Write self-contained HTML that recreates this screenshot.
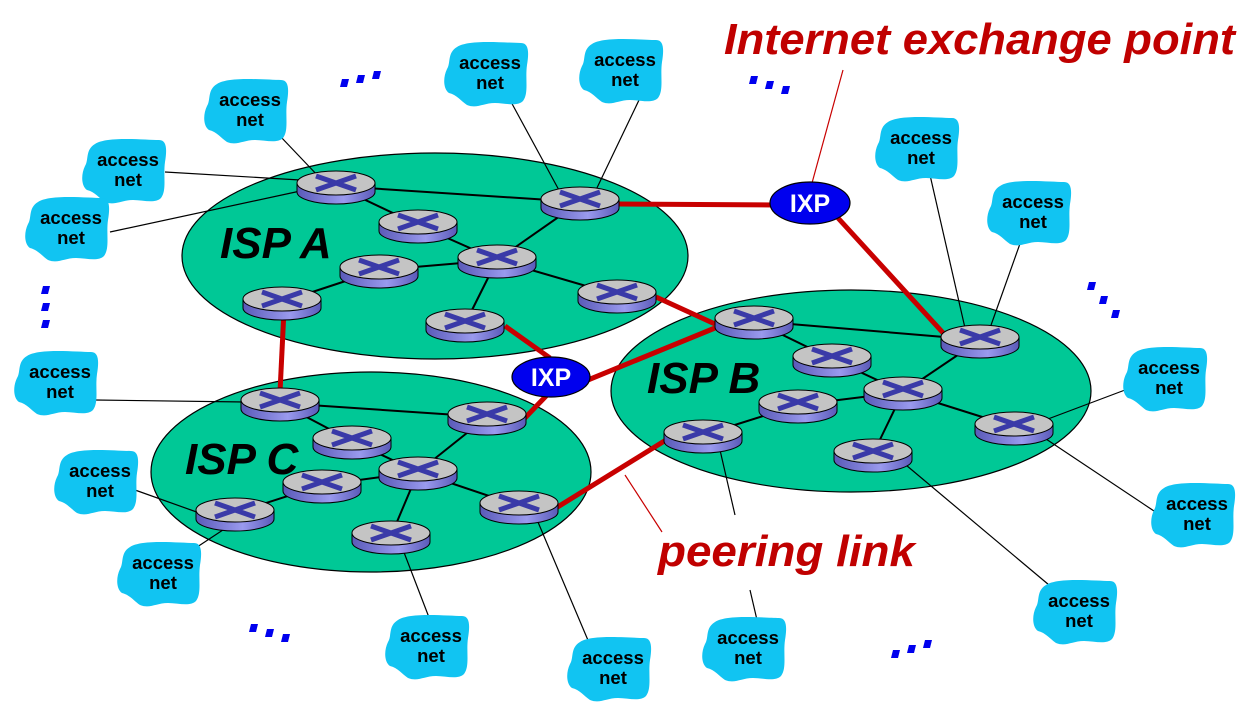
<!DOCTYPE html>
<html><head><meta charset="utf-8"><style>
html,body{margin:0;padding:0;background:#fff;width:1251px;height:707px;overflow:hidden}
svg{display:block}
.an{font-family:"Liberation Sans",sans-serif;font-weight:bold;font-size:18.5px;fill:#000;text-anchor:middle}
.isp{font-family:"Liberation Sans",sans-serif;font-weight:bold;font-style:italic;font-size:44px;fill:#000}
.red{font-family:"Liberation Sans",sans-serif;font-weight:bold;font-style:italic;font-size:44px;fill:#c00000}
.ixp{font-family:"Liberation Sans",sans-serif;font-weight:bold;font-size:25px;fill:#fff;text-anchor:middle}
</style></head><body>
<svg width="1251" height="707" viewBox="0 0 1251 707" xmlns="http://www.w3.org/2000/svg">
<defs>
<linearGradient id="side" x1="0" x2="1"><stop offset="0" stop-color="#5a5ab8"/><stop offset="0.6" stop-color="#9a9aee"/><stop offset="1" stop-color="#5a5ab8"/></linearGradient>
<g id="rt">
<path d="M-39,0 L-39,9 A39,12 0 0 0 39,9 L39,0 Z" fill="url(#side)" stroke="#000" stroke-width="1"/>
<ellipse cx="0" cy="0" rx="39" ry="12" fill="#c4c4c4" stroke="#000" stroke-width="1"/>
<path d="M-20,-7 L20,7 M-20,7 L20,-7" stroke="#3a3aa8" stroke-width="5"/>
</g>
<path id="blob" d="M-30,-26 C-18,-34 20,-30 34,-30 C42,-30 42,-20 40,-8 C38,6 42,20 36,28 C30,34 18,30 8,30 C-4,30 -10,36 -20,32 C-26,28 -30,22 -38,20 C-44,16 -44,4 -40,-4 C-36,-10 -40,-20 -30,-26 Z" fill="#11c4f2"/>
<path id="dot" d="M0,0 L7,0 L5,8 L-2,8 Z" fill="#0000ee"/>
</defs>

<ellipse cx="435" cy="256" rx="253" ry="103" fill="#00c896" stroke="#000" stroke-width="1.2"/>
<ellipse cx="851" cy="391" rx="240" ry="101" fill="#00c896" stroke="#000" stroke-width="1.2"/>
<ellipse cx="371" cy="472" rx="220" ry="100" fill="#00c896" stroke="#000" stroke-width="1.2"/>

<g stroke="#000" stroke-width="1.2" fill="none">
<line x1="280" y1="136" x2="320" y2="178"/>
<line x1="165" y1="172" x2="300" y2="180"/>
<line x1="110" y1="232" x2="305" y2="190"/>
<line x1="510" y1="100" x2="560" y2="192"/>
<line x1="640" y1="98" x2="595" y2="192"/>
<line x1="930" y1="175" x2="965" y2="328"/>
<line x1="1022" y1="238" x2="990" y2="328"/>
<line x1="95" y1="400" x2="245" y2="402"/>
<line x1="1125" y1="390" x2="1040" y2="422"/>
<line x1="135" y1="490" x2="205" y2="515"/>
<line x1="185" y1="555" x2="235" y2="522"/>
<line x1="1160" y1="515" x2="1040" y2="435"/>
<line x1="430" y1="620" x2="400" y2="542"/>
<line x1="590" y1="645" x2="535" y2="515"/>
<line x1="720" y1="450" x2="735" y2="515"/>
<line x1="750" y1="590" x2="757" y2="620"/>
<line x1="1055" y1="590" x2="900" y2="460"/>
</g>
<g stroke="#000" stroke-width="2" fill="none">
<line x1="336" y1="186" x2="580" y2="202"/><line x1="336" y1="186" x2="418" y2="225"/>
<line x1="418" y1="225" x2="497" y2="260"/><line x1="580" y1="202" x2="497" y2="260"/>
<line x1="497" y1="260" x2="379" y2="270"/><line x1="379" y1="270" x2="282" y2="302"/>
<line x1="497" y1="260" x2="617" y2="295"/><line x1="497" y1="260" x2="465" y2="324"/>
<line x1="754" y1="321" x2="980" y2="340"/><line x1="754" y1="321" x2="832" y2="359"/>
<line x1="832" y1="359" x2="903" y2="392"/><line x1="980" y1="340" x2="903" y2="392"/>
<line x1="903" y1="392" x2="798" y2="405"/><line x1="798" y1="405" x2="703" y2="435"/>
<line x1="903" y1="392" x2="873" y2="454"/><line x1="903" y1="392" x2="1014" y2="427"/>
<line x1="280" y1="403" x2="487" y2="417"/><line x1="280" y1="403" x2="352" y2="441"/>
<line x1="352" y1="441" x2="418" y2="472"/><line x1="487" y1="417" x2="418" y2="472"/>
<line x1="418" y1="472" x2="322" y2="485"/><line x1="322" y1="485" x2="235" y2="513"/>
<line x1="418" y1="472" x2="391" y2="536"/><line x1="418" y1="472" x2="519" y2="506"/>
</g>
<g stroke="#c80000" stroke-width="5" fill="none">
<line x1="284" y1="310" x2="280" y2="392"/>
<line x1="619" y1="204" x2="775" y2="205"/>
<line x1="838" y1="218" x2="945" y2="335"/>
<line x1="656" y1="297" x2="715" y2="324"/>
<line x1="505" y1="326" x2="550" y2="358"/>
<line x1="588" y1="380" x2="715" y2="328"/>
<line x1="523" y1="420" x2="548" y2="394"/>
<line x1="556" y1="508" x2="666" y2="440"/>
</g>
<g stroke="#c80000" stroke-width="1.2">
<line x1="843" y1="70" x2="812" y2="183"/>
<line x1="662" y1="532" x2="625" y2="475"/>
</g>

<use href="#rt" x="336" y="183"/><use href="#rt" x="580" y="199"/><use href="#rt" x="418" y="222"/>
<use href="#rt" x="497" y="257"/><use href="#rt" x="379" y="267"/><use href="#rt" x="282" y="299"/>
<use href="#rt" x="617" y="292"/><use href="#rt" x="465" y="321"/>
<use href="#rt" x="754" y="318"/><use href="#rt" x="980" y="337"/><use href="#rt" x="832" y="356"/>
<use href="#rt" x="903" y="389"/><use href="#rt" x="798" y="402"/><use href="#rt" x="1014" y="424"/>
<use href="#rt" x="703" y="432"/><use href="#rt" x="873" y="451"/>
<use href="#rt" x="280" y="400"/><use href="#rt" x="487" y="414"/><use href="#rt" x="352" y="438"/>
<use href="#rt" x="418" y="469"/><use href="#rt" x="322" y="482"/><use href="#rt" x="235" y="510"/>
<use href="#rt" x="519" y="503"/><use href="#rt" x="391" y="533"/>

<ellipse cx="810" cy="203" rx="40" ry="21" fill="#0000ee" stroke="#000" stroke-width="1.2"/>
<text class="ixp" x="810" y="212">IXP</text>
<ellipse cx="551" cy="377" rx="39" ry="20" fill="#0000ee" stroke="#000" stroke-width="1.2"/>
<text class="ixp" x="551" y="386">IXP</text>

<g>
<use href="#blob" x="247" y="110"/><text class="an" x="250" y="106">access</text><text class="an" x="250" y="126">net</text>
<use href="#blob" x="487" y="73"/><text class="an" x="490" y="69">access</text><text class="an" x="490" y="89">net</text>
<use href="#blob" x="622" y="70"/><text class="an" x="625" y="66">access</text><text class="an" x="625" y="86">net</text>
<use href="#blob" x="125" y="170"/><text class="an" x="128" y="166">access</text><text class="an" x="128" y="186">net</text>
<use href="#blob" x="68" y="228"/><text class="an" x="71" y="224">access</text><text class="an" x="71" y="244">net</text>
<use href="#blob" x="918" y="148"/><text class="an" x="921" y="144">access</text><text class="an" x="921" y="164">net</text>
<use href="#blob" x="1030" y="212"/><text class="an" x="1033" y="208">access</text><text class="an" x="1033" y="228">net</text>
<use href="#blob" x="57" y="382"/><text class="an" x="60" y="378">access</text><text class="an" x="60" y="398">net</text>
<use href="#blob" x="1166" y="378"/><text class="an" x="1169" y="374">access</text><text class="an" x="1169" y="394">net</text>
<use href="#blob" x="97" y="481"/><text class="an" x="100" y="477">access</text><text class="an" x="100" y="497">net</text>
<use href="#blob" x="160" y="573"/><text class="an" x="163" y="569">access</text><text class="an" x="163" y="589">net</text>
<use href="#blob" x="1194" y="514"/><text class="an" x="1197" y="510">access</text><text class="an" x="1197" y="530">net</text>
<use href="#blob" x="428" y="646"/><text class="an" x="431" y="642">access</text><text class="an" x="431" y="662">net</text>
<use href="#blob" x="610" y="668"/><text class="an" x="613" y="664">access</text><text class="an" x="613" y="684">net</text>
<use href="#blob" x="745" y="648"/><text class="an" x="748" y="644">access</text><text class="an" x="748" y="664">net</text>
<use href="#blob" x="1076" y="611"/><text class="an" x="1079" y="607">access</text><text class="an" x="1079" y="627">net</text>
</g>

<g>
<use href="#dot" x="342" y="79"/><use href="#dot" x="358" y="75"/><use href="#dot" x="374" y="71"/>
<use href="#dot" x="751" y="76"/><use href="#dot" x="767" y="81"/><use href="#dot" x="783" y="86"/>
<use href="#dot" x="43" y="286"/><use href="#dot" x="43" y="303"/><use href="#dot" x="43" y="320"/>
<use href="#dot" x="1089" y="282"/><use href="#dot" x="1101" y="296"/><use href="#dot" x="1113" y="310"/>
<use href="#dot" x="251" y="624"/><use href="#dot" x="267" y="629"/><use href="#dot" x="283" y="634"/>
<use href="#dot" x="893" y="650"/><use href="#dot" x="909" y="645"/><use href="#dot" x="925" y="640"/>
</g>

<text class="isp" x="220" y="258">ISP A</text>
<text class="isp" x="647" y="393">ISP B</text>
<text class="isp" x="185" y="474">ISP C</text>
<text class="red" x="724" y="54" textLength="511" lengthAdjust="spacingAndGlyphs">Internet exchange point</text>
<text class="red" x="658" y="566" textLength="257" lengthAdjust="spacingAndGlyphs">peering link</text>
</svg>
</body></html>
